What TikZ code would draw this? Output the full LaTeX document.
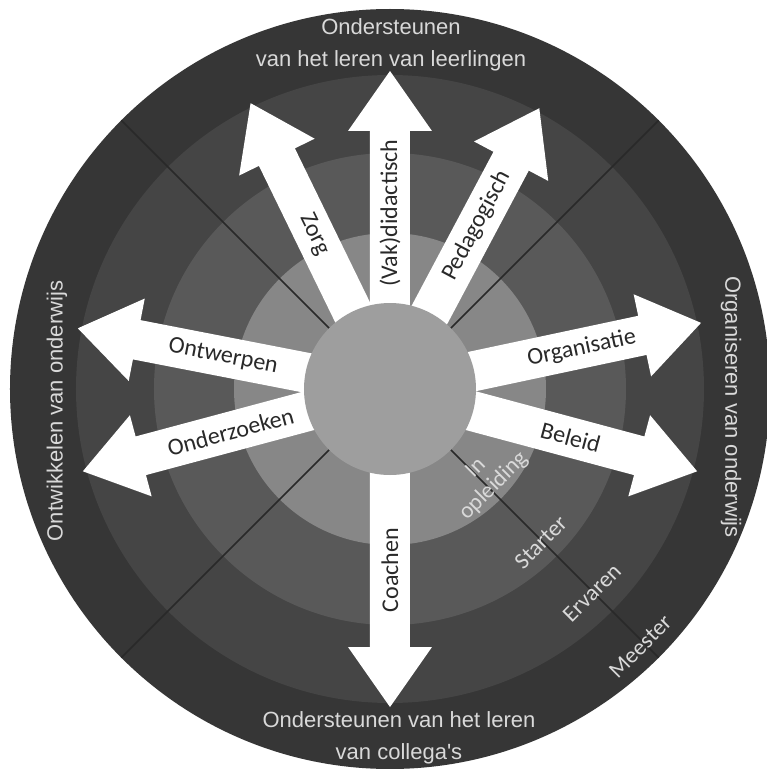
\documentclass[tikz,border=0pt]{standalone}
\usepackage{fontspec}
\setmainfont{Carlito}
\newfontfamily\sidefont{Liberation Sans}

\definecolor{kerngray}{gray}{0.62}
\definecolor{opleidinggray}{gray}{0.53}
\definecolor{startergray}{gray}{0.35}
\definecolor{ervarengray}{gray}{0.27}
\definecolor{meestergray}{gray}{0.21}
\definecolor{labelgray}{gray}{0.16}
\definecolor{lightgray}{gray}{0.85}

\begin{document}
\begin{tikzpicture}[x=1pt,y=1pt,
		divider/.style={draw=labelgray,line width=1.6pt},
		bigarrow/.pic={\fill[white] (0,-20) -- (258,-20) -- (258,-42) -- (318,0) -- (258,42) -- (258,20) -- (0,20) -- cycle;},
		arrowlabel/.style={font=\fontsize{24}{26}\selectfont,text=labelgray,inner sep=0pt},
		levellabel/.style={font=\fontsize{23}{25}\selectfont,text=lightgray,rotate=45,align=center,inner sep=0pt},
		sidelabel/.style={font=\fontsize{22}{32}\sidefont,text=lightgray,align=center,inner sep=0pt}]
		\useasboundingbox (-390,-380) rectangle (377,389);
		\fill[white] (-390,-380) rectangle (377,389);
		% rings
		\fill[meestergray] (0,0) circle (380);
		\fill[ervarengray] (0,0) circle (314);
		\fill[startergray] (0,0) circle (236);
		\fill[opleidinggray] (0,0) circle (156);
		\draw[divider] (45:86) -- (45:380);
		\draw[divider] (135:86) -- (135:380);
		\draw[divider] (225:86) -- (225:380);
		\draw[divider] (315:86) -- (315:380);
		% arrows
		\pic[rotate=90] {bigarrow};
		\pic[rotate=116] {bigarrow};
		\pic[rotate=62] {bigarrow};
		\pic[rotate=169] {bigarrow};
		\pic[rotate=195] {bigarrow};
		\pic[rotate=12] {bigarrow};
		\pic[rotate=-15] {bigarrow};
		\pic[rotate=-90] {bigarrow};
		\node[circle,fill=kerngray,minimum size=172pt,inner sep=0pt] (kern) at (0,0) {};
		% arrow labels
		\node[arrowlabel,rotate=90] (didactisch) at (90:176) {(Vak)didactisch};
		\node[arrowlabel,rotate=-64] (zorg) at (116:172) {Zorg};
		\node[arrowlabel,rotate=62] (pedagogisch) at (62:185) {Pedagogisch};
		\node[arrowlabel,rotate=-11] (ontwerpen) at (169:170) {Ontwerpen};
		\node[arrowlabel,rotate=15] (onderzoeken) at (195:165) {Onderzoeken};
		\node[arrowlabel,rotate=12] (organisatie) at (12:196) {Organisatie};
		\node[arrowlabel,rotate=-15] (beleid) at (-15:187) {Beleid};
		\node[arrowlabel,rotate=90] (coachen) at (-90:181) {Coachen};
		% levels
		\node[levellabel] (inopleiding) at (-43:130) {In\\opleiding};
		\node[levellabel] (starter) at (-45.5:215) {Starter};
		\node[levellabel] (ervaren) at (-45.3:287) {Ervaren};
		\node[levellabel] (meester) at (-45.8:359) {Meester};
		% outer texts
		\node[sidelabel] (leerlingen) at (1,344) {Ondersteunen\\van het leren van leerlingen};
		\node[sidelabel] (collegas) at (9,-349) {Ondersteunen van het leren\\van collega's};
		\node[sidelabel,rotate=90] (ontwikkelen) at (-333,-22) {Ontwikkelen van onderwijs};
		\node[sidelabel,rotate=-90] (organiseren) at (341,-18) {Organiseren van onderwijs};
	\end{tikzpicture}
\end{document}
